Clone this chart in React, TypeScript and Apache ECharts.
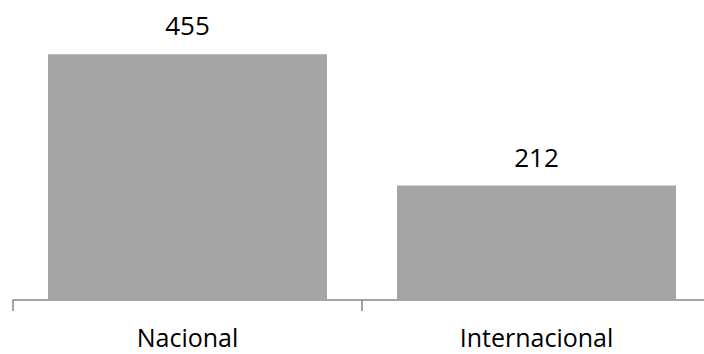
import React, { useEffect, useRef } from "react";
import * as echarts from "echarts";

const categories = ["Nacional", "Internacional"];
const values = [455, 212];

export default function App() {
  const ref = useRef<HTMLDivElement>(null);
  useEffect(() => {
    if (!ref.current) return;
    const chart = echarts.init(ref.current, null, { renderer: "svg" });
    chart.setOption({
      animation: false,
      grid: { left: 13, right: 0, top: 30, bottom: 54 },
      xAxis: {
        type: "category",
        data: categories,
        axisLine: { lineStyle: { color: "#868686", width: 1.5 } },
        axisTick: { show: true, length: 11, lineStyle: { color: "#868686", width: 1.5 } },
        axisLabel: { fontSize: 25, lineHeight: 25, color: "#000", margin: 24, fontFamily: "Open Sans" },
      },
      yAxis: {
        type: "value",
        min: 0,
        max: 500,
        show: false,
        splitLine: { show: false },
      },
      series: [
        {
          type: "bar",
          data: values,
          barWidth: 279,
          itemStyle: { color: "#a5a5a5" },
          label: {
            show: true,
            position: "top",
            distance: 16,
            fontSize: 26,
            color: "#000",
            fontFamily: "Open Sans",
          },
        },
      ],
    });
    return () => chart.dispose();
  }, []);
  return (
    <div style={{ position: "fixed", left: 0, top: 0, width: 704, height: 354, overflow: "hidden", background: "#fff" }}>
      <div ref={ref} style={{ position: "absolute", left: 0, top: 0, width: 711, height: 354 }} />
    </div>
  );
}
